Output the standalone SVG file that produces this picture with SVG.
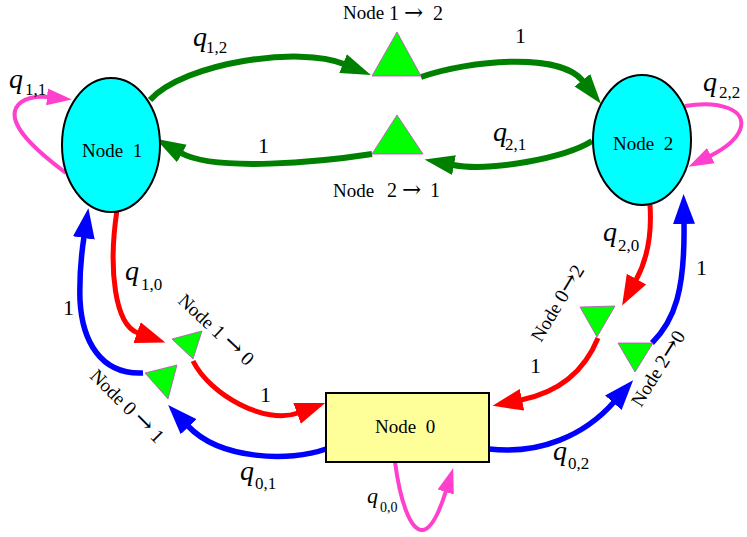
<svg xmlns="http://www.w3.org/2000/svg" width="747" height="537" viewBox="0 0 747 537">
<style>
text{font-family:"Liberation Serif","Times New Roman",serif;fill:#000}
.nl{font-size:19px}
.tl{font-size:19px}
.td{font-size:20px}
.ar{font-family:"DejaVu Serif",serif;font-size:23px}
.one{font-size:22px}
.q{font-size:28px;font-style:italic}
.s{font-size:17px}
.g{fill:none;stroke:#008000;stroke-width:6}
.r{fill:none;stroke:#FF0000;stroke-width:5}
.b{fill:none;stroke:#0000FF;stroke-width:5.5}
.m{fill:none;stroke:#FF40CC;stroke-width:4}
.tri{fill:#00FF00;stroke:#CC44CC;stroke-width:0.8}
</style>
<defs>
<marker id="ag" markerUnits="userSpaceOnUse" markerWidth="32" markerHeight="24" viewBox="0 -12 32 24" refX="1" refY="0" orient="auto"><path d="M0,-10 L30,0 L0,10 z" fill="#008000"/></marker>
<marker id="ar" markerUnits="userSpaceOnUse" markerWidth="32" markerHeight="26" viewBox="0 -13 32 26" refX="1" refY="0" orient="auto"><path d="M0,-11 L30,0 L0,11 z" fill="#FF0000"/></marker>
<marker id="ab" markerUnits="userSpaceOnUse" markerWidth="32" markerHeight="26" viewBox="0 -13 32 26" refX="1" refY="0" orient="auto"><path d="M0,-11 L30,0 L0,11 z" fill="#0000FF"/></marker>
<marker id="am" markerUnits="userSpaceOnUse" markerWidth="28" markerHeight="20" viewBox="0 -10 28 20" refX="1" refY="0" orient="auto"><path d="M0,-8.5 L25,0 L0,8.5 z" fill="#FF40CC"/></marker>
</defs>
<g id="connectors">
<path class="g" d="M150,100 C185,62 300,46 344,64" marker-end="url(#ag)"/>
<path class="g" d="M421,77 C470,60 560,52 583,81" marker-end="url(#ag)"/>
<path class="g" d="M592,141 C565,158 490,172 453,165" marker-end="url(#ag)"/>
<path class="g" d="M372,154 C320,162 215,172 181,153" marker-end="url(#ag)"/>
<path class="m" d="M66,173 C35,150 8,125 16,108 C22,97 38,96 48,97" marker-end="url(#am)"/>
<path class="m" d="M685,106 C720,100 748,110 740,130 C735,142 722,150 710,156" marker-end="url(#am)"/>
<path class="m" d="M395,462 C400,500 410,530 422,530 C432,530 440,510 446,491" marker-end="url(#am)"/>
<path class="r" d="M117,210 C108,270 115,325 138,333" marker-end="url(#ar)"/>
<path class="r" d="M193,361 C210,395 265,425 298,413" marker-end="url(#ar)"/>
<path class="b" d="M326,449 C290,462 220,460 188,426" marker-end="url(#ab)"/>
<path class="b" d="M143,373 C100,375 82,340 80,300 C79,270 82,250 84,237" marker-end="url(#ab)"/>
<path class="r" d="M650,205 C652,235 648,258 636,280" marker-end="url(#ar)"/>
<path class="r" d="M598,338 C585,370 560,392 521,400" marker-end="url(#ar)"/>
<path class="b" d="M489,449 C540,455 585,435 614,402" marker-end="url(#ab)"/>
<path class="b" d="M652,343 C675,320 685,290 684,223" marker-end="url(#ab)"/>
</g>
<g id="node1">
<ellipse cx="111" cy="145" rx="49" ry="67" fill="#00FFFF" stroke="#000" stroke-width="2"/>
<text class="nl" x="82" y="157" xml:space="preserve">Node  1</text>
</g>
<g id="node2">
<ellipse cx="642" cy="140" rx="49" ry="65" fill="#00FFFF" stroke="#000" stroke-width="2"/>
<text class="nl" x="613" y="150" xml:space="preserve">Node  2</text>
</g>
<g id="node0">
<rect x="326" y="393" width="163" height="69" fill="#FFFF99" stroke="#000" stroke-width="2"/>
<text class="nl" x="375" y="433" xml:space="preserve">Node  0</text>
</g>
<g id="t12">
<polygon class="tri" points="372,76 397,32 421,76"/>
<text x="343" y="19"><tspan class="tl">Node</tspan><tspan class="td" x="389" y="20">1</tspan><tspan class="ar" x="404">→</tspan><tspan class="td" x="433">2</tspan></text>
</g>
<g id="t21">
<polygon class="tri" points="372,154 397,115 423,154"/>
<text x="333" y="197"><tspan class="tl">Node</tspan><tspan class="td" x="387">2</tspan><tspan class="ar" x="402">→</tspan><tspan class="td" x="430">1</tspan></text>
</g>
<g id="t10">
<polygon class="tri" points="172,339 202,331 193,359"/>
<text transform="translate(177,302) rotate(43)"><tspan class="tl">Node </tspan><tspan class="td">1 </tspan><tspan class="ar">→</tspan><tspan class="td"> 0</tspan></text>
</g>
<g id="t01">
<polygon class="tri" points="145,373 177,365 168,399"/>
<text transform="translate(89,377) rotate(45)"><tspan class="tl">Node </tspan><tspan class="td">0 </tspan><tspan class="ar">→</tspan><tspan class="td"> 1</tspan></text>
</g>
<g id="t02">
<polygon class="tri" points="580,307 615,306 597,337"/>
<text transform="translate(541,343) rotate(-59)"><tspan class="tl">Node </tspan><tspan class="td">0</tspan><tspan class="ar">→</tspan><tspan class="td">2</tspan></text>
</g>
<g id="t20">
<polygon class="tri" points="618,343 653,343 635,372"/>
<text transform="translate(641,408) rotate(-58)"><tspan class="tl">Node </tspan><tspan class="td">2</tspan><tspan class="ar">→</tspan><tspan class="td">0</tspan></text>
</g>
<g id="labels">
<text x="9" y="88"><tspan class="q">q</tspan><tspan class="s" x="25" y="95">1,1</tspan></text>
<text x="193" y="46"><tspan class="q">q</tspan><tspan class="s" x="206" y="53">1,2</tspan></text>
<text x="493" y="141"><tspan class="q">q</tspan><tspan class="s" x="505" y="150">2,1</tspan></text>
<text x="703" y="91"><tspan class="q">q</tspan><tspan class="s" x="719" y="98">2,2</tspan></text>
<text x="125" y="280"><tspan class="q">q</tspan><tspan class="s" x="141" y="290">1,0</tspan></text>
<text x="603" y="241"><tspan class="q">q</tspan><tspan class="s" x="618" y="251">2,0</tspan></text>
<text x="240" y="480"><tspan class="q">q</tspan><tspan class="s" x="255" y="489">0,1</tspan></text>
<text x="553" y="460"><tspan class="q">q</tspan><tspan class="s" x="568" y="469">0,2</tspan></text>
<text x="367" y="503"><tspan class="q" style="font-size:22px">q</tspan><tspan class="s" style="font-size:14px" x="380" y="512">0,0</tspan></text>
<text class="one" x="515" y="43">1</text>
<text class="one" x="258" y="153">1</text>
<text class="one" x="63" y="315">1</text>
<text class="one" x="260" y="402">1</text>
<text class="one" x="530" y="373">1</text>
<text class="one" x="696" y="275">1</text>
</g>
</svg>
